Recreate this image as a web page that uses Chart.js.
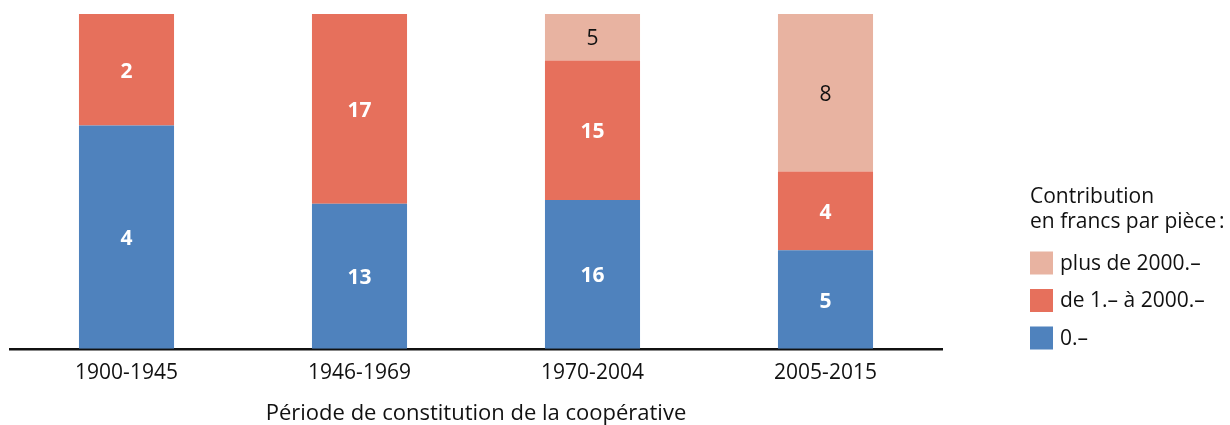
<!DOCTYPE html>
<html>
<head>
<meta charset="utf-8">
<script src="https://cdn.jsdelivr.net/npm/chart.js@4"></script>
<style>
  html, body { margin: 0; padding: 0; background: #fff; }
  #wrap { width: 1230px; height: 425px; position: relative; }
</style>
</head>
<body>
<div id="wrap"><canvas id="coopChart"></canvas></div>
<script>
// périodes et nombre de coopératives par classe de contribution
const periods = ['1900-1945', '1946-1969', '1970-2004', '2005-2015'];
const countZero = [4, 13, 16, 5];
const countMid = [2, 17, 15, 4];
const countHigh = [0, 0, 5, 8];

const seriesNames = ['0.–', 'de 1.– à 2000.–', 'plus de 2000.–'];
const legendTitle = ['Contribution', 'en francs par pièce\u202F:'];
const axisTitle = 'Période de constitution de la coopérative';

const colors = ['#4F82BD', '#E6705C', '#E8B3A1'];
const labelColors = ['#fff', '#fff', '#111'];
const labelWeights = ['bold', 'bold', 'normal'];
const FONT = '"Open Sans", sans-serif';

// parts en % de chaque période (barres empilées à 100 %)
const totals = periods.map((p, i) => countZero[i] + countMid[i] + countHigh[i]);
const share = arr => arr.map((v, i) => v / totals[i] * 100);
const counts = [countZero, countMid, countHigh];

// nombres au milieu des segments
const segLabels = {
    id: 'segLabels',
    afterDatasetsDraw(chart) {
        const ctx = chart.ctx;
        ctx.save();
        ctx.textAlign = 'center';
        ctx.textBaseline = 'middle';
        chart.data.datasets.forEach((ds, i) => {
            const meta = chart.getDatasetMeta(i);
            meta.data.forEach((bar, j) => {
                const n = counts[i][j];
                if (!n) return;
                ctx.fillStyle = labelColors[i];
                ctx.font = labelWeights[i] + ' 21px ' + FONT;
                ctx.fillText(String(n), bar.x, (bar.y + bar.base) / 2 + 2);
            });
        });
        ctx.restore();
    }
};

// légende à droite
const sideLegend = {
    id: 'sideLegend',
    afterDraw(chart) {
        const ctx = chart.ctx;
        const x0 = chart.chartArea.right + 88;
        ctx.save();
        ctx.fillStyle = '#111';
        ctx.textAlign = 'left';
        ctx.textBaseline = 'middle';
        ctx.font = '21px ' + FONT;
        legendTitle.forEach((t, k) => ctx.fillText(t, x0, 197 + k * 25));
        // ordre inversé : plus de 2000 en haut
        for (let k = 0; k < 3; k++) {
            const i = 2 - k;
            const yc = 263 + k * 37.5;
            ctx.fillStyle = colors[i];
            ctx.fillRect(x0, yc - 11.5, 23, 23);
            ctx.fillStyle = '#111';
            ctx.fillText(seriesNames[i], x0 + 30, yc + 1);
        }
        ctx.restore();
    }
};

new Chart(document.getElementById('coopChart'), {
    type: 'bar',
    data: {
        labels: periods,
        datasets: counts.map((c, i) => ({
            label: seriesNames[i],
            data: share(c),
            backgroundColor: colors[i],
            borderWidth: 0,
            categoryPercentage: 1,
            barPercentage: 0.408
        }))
    },
    options: {
        responsive: true,
        maintainAspectRatio: false,
        animation: false,
        layout: { padding: { left: 10, right: 288, top: 14, bottom: 0 } },
        plugins: {
            legend: { display: false },
            tooltip: { enabled: false }
        },
        scales: {
            x: {
                stacked: true,
                grid: { display: false, drawTicks: false },
                border: { display: true, color: '#111', width: 2.5 },
                ticks: { color: '#111', font: { family: FONT, size: 21 }, padding: 12 },
                title: {
                    display: true,
                    text: axisTitle,
                    color: '#111',
                    font: { family: FONT, size: 22, lineHeight: 1 },
                    padding: { top: 5, bottom: 0 }
                }
            },
            y: {
                stacked: true,
                display: false,
                min: 0,
                max: 100
            }
        }
    },
    plugins: [segLabels, sideLegend]
});
</script>
</body>
</html>
